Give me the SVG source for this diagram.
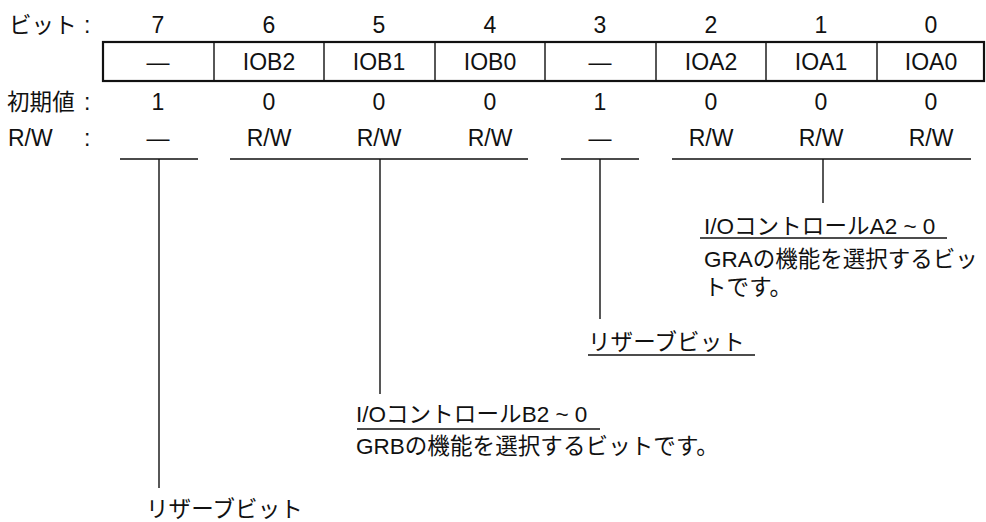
<svg xmlns="http://www.w3.org/2000/svg" width="986" height="522" viewBox="0 0 986 522">
<style>
text{font-family:"Liberation Sans","Noto Sans CJK JP",Arial,sans-serif;fill:#111}
.l{font-size:23px;text-anchor:middle}
.h{font-size:23px}
.j{font-size:22.5px}
.js{letter-spacing:0.1px}
.c{stroke:#111;fill:none;stroke-width:1.4}
.b{stroke:#111;fill:none;stroke-width:1.5}
</style>
<rect width="986" height="522" fill="#fff"/>
<g id="row-labels">
<text class="j js" x="9" y="33">ビット</text><text class="h" x="84" y="33">:</text>
<text class="j js" x="7" y="110">初期値</text><text class="h" x="84" y="110">:</text>
<text class="h" x="8" y="146">R/W</text><text class="h" x="84" y="146">:</text>
</g>
<g id="bit-numbers">
<text class="l" x="158" y="33">7</text><text class="l" x="269" y="33">6</text><text class="l" x="379" y="33">5</text><text class="l" x="490" y="33">4</text>
<text class="l" x="600" y="33">3</text><text class="l" x="711" y="33">2</text><text class="l" x="821" y="33">1</text><text class="l" x="931" y="33">0</text>
</g>
<g id="register">
<rect x="103" y="42" width="881" height="39" fill="none" stroke="#111" stroke-width="2.2"/>
<path class="c" d="M214 42V81M324 42V81M435 42V81M545 42V81M656 42V81M766 42V81M877 42V81"/>
<text class="l" x="158" y="70">—</text><text class="l" x="269" y="70">IOB2</text><text class="l" x="379" y="70">IOB1</text><text class="l" x="490" y="70">IOB0</text>
<text class="l" x="600" y="70">—</text><text class="l" x="711" y="70">IOA2</text><text class="l" x="821" y="70">IOA1</text><text class="l" x="931" y="70">IOA0</text>
</g>
<g id="initial-values">
<text class="l" x="158" y="110">1</text><text class="l" x="269" y="110">0</text><text class="l" x="379" y="110">0</text><text class="l" x="490" y="110">0</text>
<text class="l" x="600" y="110">1</text><text class="l" x="711" y="110">0</text><text class="l" x="821" y="110">0</text><text class="l" x="931" y="110">0</text>
</g>
<g id="rw">
<text class="l" x="158" y="146">—</text><text class="l" x="269" y="146">R/W</text><text class="l" x="379" y="146">R/W</text><text class="l" x="490" y="146">R/W</text>
<text class="l" x="600" y="146">—</text><text class="l" x="711" y="146">R/W</text><text class="l" x="821" y="146">R/W</text><text class="l" x="931" y="146">R/W</text>
</g>
<g id="connectors">
<path class="b" d="M120 159H198M230 159H528M561 159H639M672 159H971"/>
<path class="c" d="M159 159V488M380 159V394M600 159V319M823 159V203"/>
</g>
<g id="note-ioa">
<text class="j" x="704" y="234">I/O<tspan class="js">コントロール</tspan>A2 ~ 0</text>
<path class="c" d="M700 238H947"/>
<text class="j" x="704" y="267">GRA<tspan>の機能を選択するビッ</tspan></text>
<text class="j js" x="704" y="295">トです。</text>
</g>
<g id="note-reserved-3">
<text class="j js" x="588" y="350">リザーブビット</text>
<path class="c" d="M588 355H755"/>
</g>
<g id="note-iob">
<text class="j" x="356" y="422">I/O<tspan class="js">コントロール</tspan>B2 ~ 0</text>
<path class="c" d="M357 429H600"/>
<text class="j" x="356" y="454">GRB<tspan class="js">の機能を選択するビットです。</tspan></text>
</g>
<g id="note-reserved-7">
<text class="j js" x="146" y="517">リザーブビット</text>
</g>
</svg>
